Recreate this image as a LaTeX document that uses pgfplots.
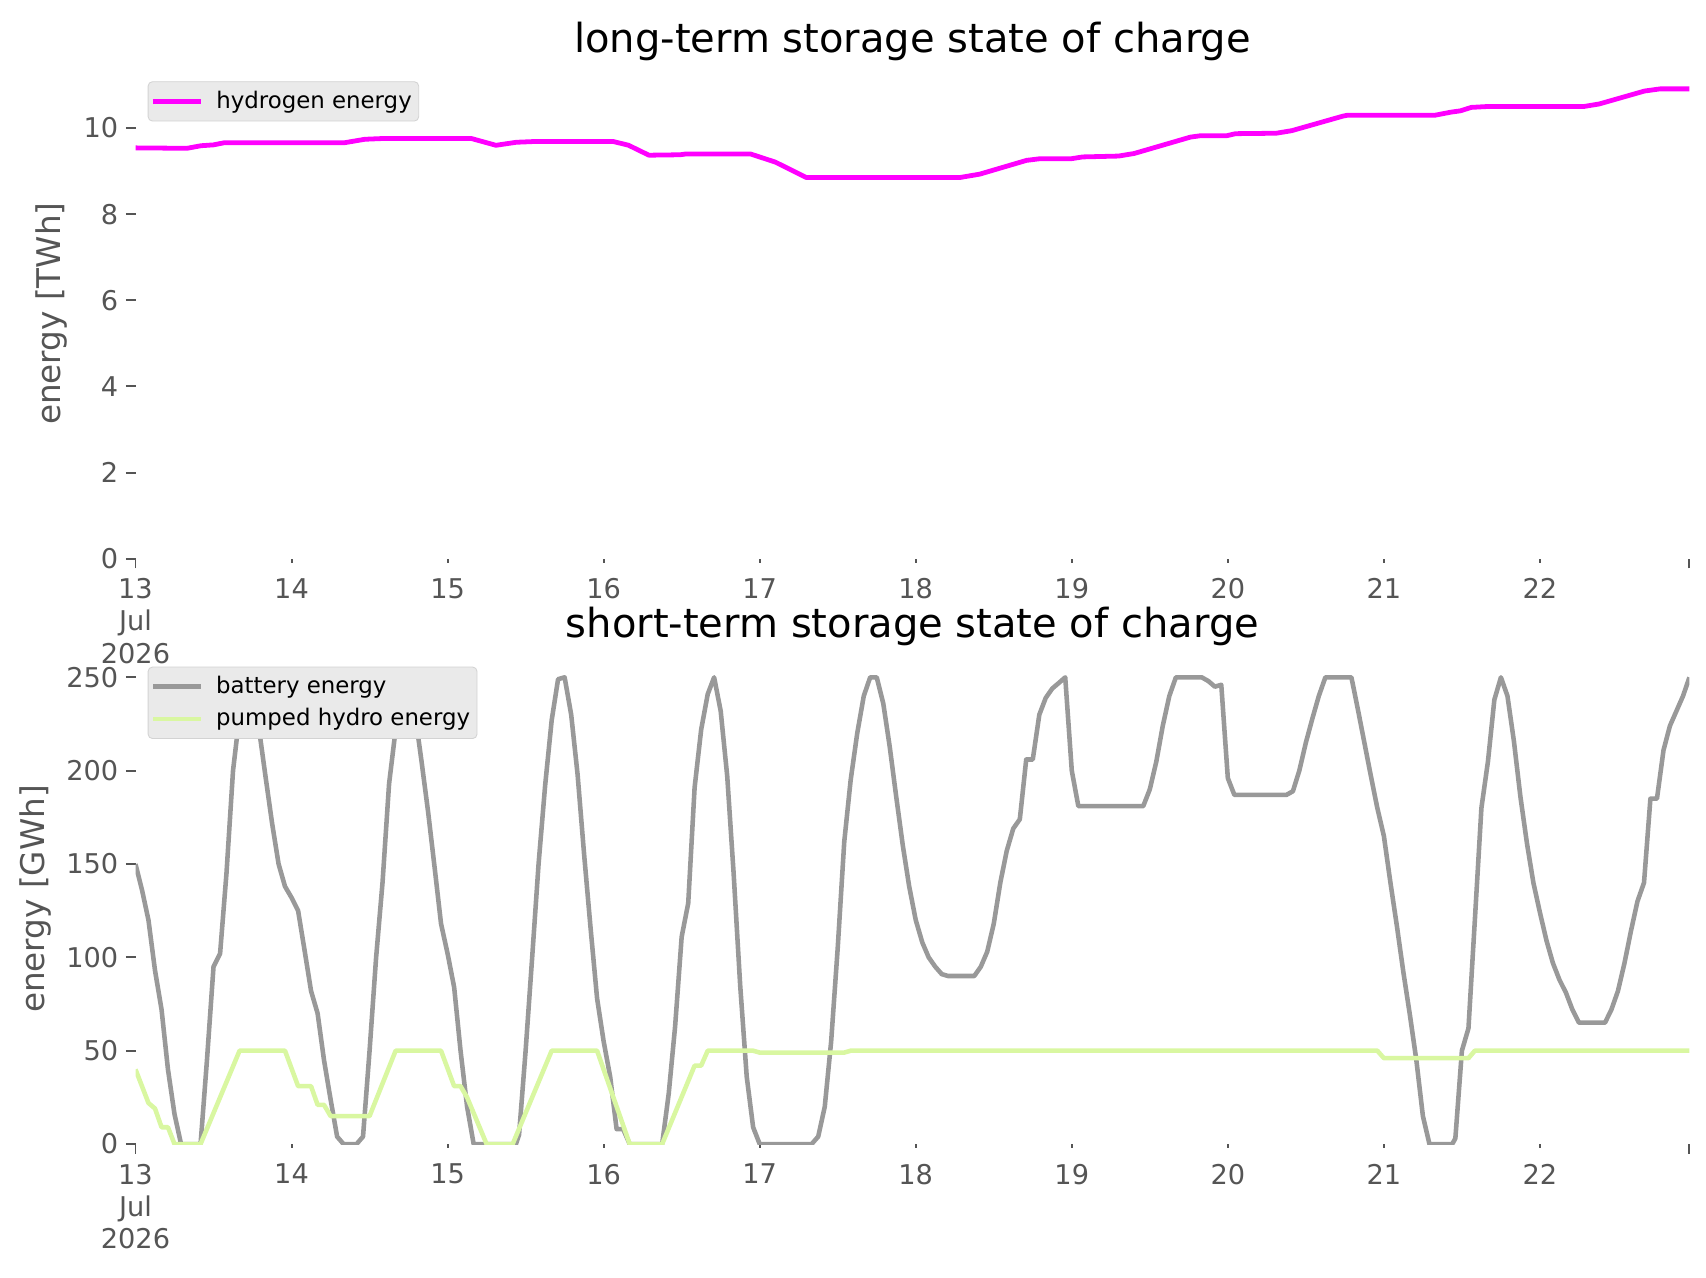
\documentclass[border=0pt]{standalone}
\usepackage{fontspec}
\setmainfont{DejaVu Sans}
\usepackage{pgfplots}
\pgfplotsset{compat=1.18}
\definecolor{tickgray}{HTML}{555555}
\definecolor{hcol}{HTML}{FF00FF}
\definecolor{batt}{HTML}{999999}
\definecolor{phs}{HTML}{D9F7A1}
\definecolor{legfill}{HTML}{EAEAEA}
\definecolor{legedge}{HTML}{D3D3D3}

\pgfplotsset{
  storstyle/.style={
    scale only axis, width=714.1pt, height=225.2pt,
    xmin=13, xmax=22.958,
    axis line style={draw=none},
    tick align=outside, xtick pos=bottom, ytick pos=left,
    xtick={13,...,22},
    xticklabels={{13\\Jul\\2026},14,15,16,17,18,19,20,21,22},
    extra x ticks={13,22.958},
    extra x tick labels={,},
    extra x tick style={xtick style={/pgfplots/major tick length=4.4pt}},
    xtick style={/pgfplots/major tick length=1.8pt},
    xticklabel style={align=center, font=\fontsize{12.5}{14.8}\selectfont, text=tickgray, yshift=-1.2pt},
    yticklabel style={font=\fontsize{12.5}{14.5}\selectfont, text=tickgray},
    /pgf/number format/assume math mode=true,
    major tick length=4.4pt,
    minor tick num=0,
    tick style={tickgray, line width=0.9pt},
    every axis title/.style={at={(0.5,1)}, anchor=base, yshift=7.5pt, font=\fontsize{18.4}{21}\selectfont},
    every axis y label/.style={rotate=90, anchor=center, font=\fontsize{15}{18}\selectfont, text=tickgray},
    legend cell align=left,
    legend image code/.code={\draw[##1] (0pt,0pt) -- (22pt,0pt);},
    legend style={at={(0,1)}, anchor=north west, xshift=5.6pt, yshift=-5.8pt,
      fill=legfill, draw=legedge, rounded corners=2pt,
      inner xsep=1.2pt, inner ysep=2.3pt, row sep=1.3pt,
      font=\fontsize{10.5}{12.5}\selectfont,
      nodes={inner xsep=2pt, inner ysep=2pt},
      /tikz/every odd column/.append style={column sep=4pt}},
  }
}

\begin{document}
\begin{tikzpicture}
\useasboundingbox (0,0) rectangle (784pt,586.85pt);

\begin{axis}[storstyle,
  at={(62.27pt,330.1pt)}, anchor=south west,
  ymin=0, ymax=11.38,
  ytick={0,2,4,6,8,10},
  title={long-term storage state of charge},
  ylabel={energy [TWh]},
  ylabel style={at={(axis description cs:-0.0538,0.5)}},
]
\addplot[hcol, line width=2.2pt, line join=round] coordinates {
(13.000,9.54) (13.330,9.53) (13.420,9.59) (13.500,9.61) (13.570,9.66) (14.340,9.66)
(14.470,9.74) (14.600,9.76) (15.150,9.76) (15.310,9.60) (15.440,9.67) (15.570,9.69)
(16.060,9.69) (16.160,9.60) (16.290,9.37) (16.490,9.38) (16.530,9.40) (16.940,9.40)
(17.100,9.21) (17.300,8.85) (18.280,8.85) (18.410,8.93) (18.710,9.25) (18.800,9.29)
(19.000,9.29) (19.070,9.33) (19.300,9.35) (19.400,9.41) (19.760,9.79) (19.820,9.82)
(19.990,9.82) (20.050,9.87) (20.310,9.88) (20.410,9.94) (20.740,10.28) (20.770,10.30)
(21.330,10.30) (21.430,10.37) (21.490,10.40) (21.560,10.48) (21.660,10.50) (22.280,10.50)
(22.380,10.56) (22.670,10.86) (22.770,10.91) (22.958,10.91)
};
\addlegendentry{hydrogen energy}
\end{axis}

\begin{axis}[storstyle,
  at={(62.27pt,61.1pt)}, anchor=south west,
  ymin=0, ymax=262.5,
  ytick={0,50,100,150,200,250},
  title={short-term storage state of charge},
  ylabel={energy [GWh]},
  ylabel style={at={(axis description cs:-0.0641,0.5)}},
]
\addplot[batt, line width=2.1pt, line join=round] coordinates {
(13.000,150) (13.042,136) (13.083,120) (13.125,93) (13.167,72) (13.208,40) (13.250,16) (13.292,0)
(13.417,0) (13.458,45) (13.500,95) (13.542,102) (13.583,145) (13.625,200) (13.667,230) (13.708,248)
(13.750,250) (13.792,222) (13.833,197) (13.875,172) (13.917,150) (13.958,138) (14.000,132) (14.042,125)
(14.083,104) (14.125,82) (14.167,70) (14.208,45) (14.250,24) (14.292,4) (14.333,0)
(14.417,0) (14.458,4) (14.500,50) (14.542,100) (14.583,140) (14.625,193) (14.667,222) (14.708,248)
(14.750,250) (14.792,230) (14.833,205) (14.875,178) (14.917,148) (14.958,118) (15.000,102) (15.042,84)
(15.083,50) (15.125,20) (15.167,0)
(15.438,0) (15.458,5) (15.500,50) (15.542,100) (15.583,150) (15.625,192) (15.667,227) (15.708,249)
(15.750,250) (15.792,230) (15.833,198) (15.875,155) (15.917,115) (15.958,78) (16.000,55) (16.042,36)
(16.083,8) (16.125,8) (16.167,0)
(16.375,0) (16.417,27) (16.458,63) (16.500,111) (16.542,129) (16.583,191) (16.625,222) (16.667,241)
(16.708,250) (16.750,232) (16.792,197) (16.833,145) (16.875,85) (16.917,36) (16.958,9) (17.000,0)
(17.333,0) (17.375,4) (17.417,20) (17.458,55) (17.500,105) (17.542,162) (17.583,195) (17.625,220)
(17.667,240) (17.708,250) (17.750,250) (17.792,236) (17.833,213) (17.875,186) (17.917,160) (17.958,138)
(18.000,120) (18.042,108) (18.083,100) (18.125,95) (18.167,91) (18.208,90)
(18.375,90) (18.417,95) (18.458,103) (18.500,118) (18.542,140) (18.583,157) (18.625,169) (18.667,174)
(18.708,206) (18.750,206) (18.792,230) (18.833,239) (18.875,244) (18.917,247) (18.958,250) (19.000,200)
(19.042,181) (19.458,181) (19.500,190) (19.542,205) (19.583,224) (19.625,240) (19.667,250)
(19.833,250) (19.875,248) (19.917,245) (19.958,246) (20.000,196) (20.042,187)
(20.375,187) (20.417,189) (20.458,200) (20.500,215) (20.542,228) (20.583,240) (20.625,250)
(20.792,250) (20.833,233) (20.875,215) (20.917,197) (20.958,180) (21.000,165) (21.042,140) (21.083,117)
(21.125,92) (21.167,69) (21.208,45) (21.250,15) (21.292,0)
(21.438,0) (21.458,3) (21.500,50) (21.542,62) (21.583,120) (21.625,180) (21.667,205) (21.708,238)
(21.750,250) (21.792,240) (21.833,216) (21.875,186) (21.917,161) (21.958,140) (22.000,124) (22.042,109)
(22.083,97) (22.125,88) (22.167,81) (22.208,72) (22.250,65)
(22.417,65) (22.458,72) (22.500,82) (22.542,97) (22.583,114) (22.625,130) (22.667,140) (22.708,185)
(22.750,185) (22.792,211) (22.833,224) (22.875,232) (22.917,240) (22.958,250)
};
\addlegendentry{battery energy}
\addplot[phs, line width=2.1pt, line join=round] coordinates {
(13.000,40) (13.083,22) (13.125,19) (13.167,9) (13.208,9) (13.250,0) (13.417,0) (13.667,50)
(13.958,50) (14.042,31) (14.125,31) (14.167,21) (14.208,21) (14.250,15) (14.500,15) (14.667,50)
(14.958,50) (15.042,31) (15.083,31) (15.125,25) (15.250,0) (15.417,0) (15.667,50) (15.958,50)
(16.167,0) (16.375,0) (16.583,42) (16.625,42) (16.667,50) (16.958,50) (17.000,49) (17.542,49)
(17.583,50) (20.958,50) (21.000,46) (21.542,46) (21.583,50) (22.958,50)
};
\addlegendentry{pumped hydro energy}
\end{axis}
\end{tikzpicture}
\end{document}
